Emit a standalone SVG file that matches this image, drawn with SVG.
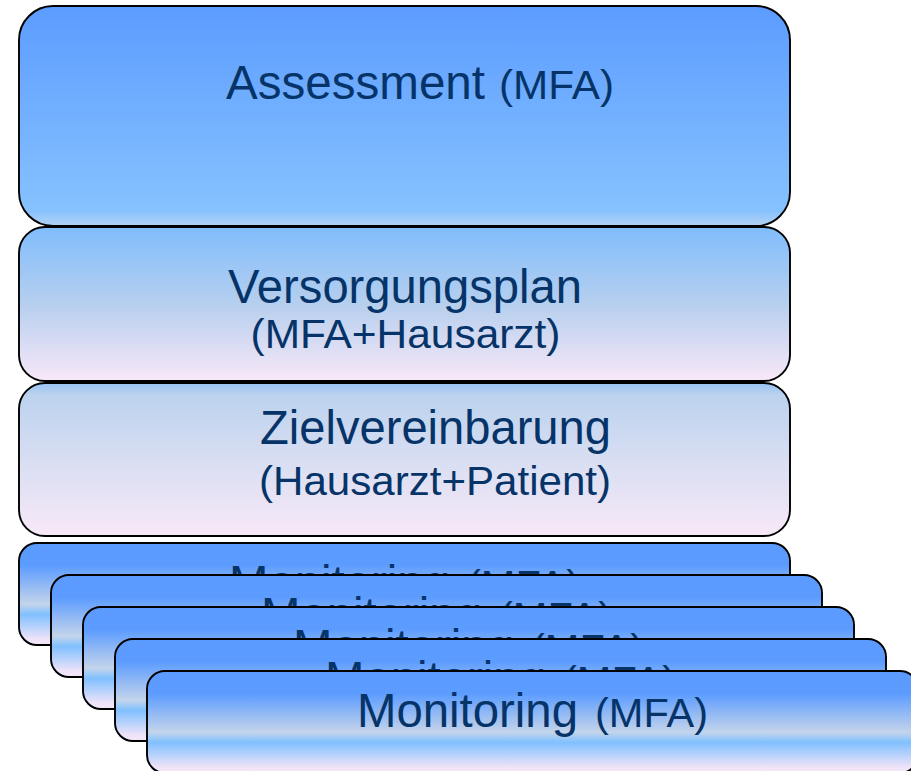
<svg xmlns="http://www.w3.org/2000/svg" width="911" height="771" viewBox="0 0 911 771">
<defs>
<linearGradient id="g1" x1="0" y1="0" x2="0" y2="1">
<stop offset="0" stop-color="#5c9cff"/>
<stop offset="0.93" stop-color="#86c2ff"/>
<stop offset="1" stop-color="#b4d2f2"/>
</linearGradient>
<linearGradient id="g2" x1="0" y1="0" x2="0" y2="1">
<stop offset="0" stop-color="#80bdfd"/>
<stop offset="0.5" stop-color="#b6cfee"/>
<stop offset="1" stop-color="#f8e8f8"/>
</linearGradient>
<linearGradient id="g3" x1="0" y1="0" x2="0" y2="1">
<stop offset="0" stop-color="#98c4f6"/>
<stop offset="0.08" stop-color="#bcd2ee"/>
<stop offset="0.5" stop-color="#d8def2"/>
<stop offset="1" stop-color="#f8e8f8"/>
</linearGradient>
<linearGradient id="gm" x1="0" y1="0" x2="0" y2="1">
<stop offset="0" stop-color="#5b9bff"/>
<stop offset="0.22" stop-color="#5c9cff"/>
<stop offset="0.6" stop-color="#c4d4ea"/>
<stop offset="0.7" stop-color="#80c0ff"/>
<stop offset="0.95" stop-color="#f2e4f8"/>
<stop offset="1" stop-color="#f4e6f8"/>
</linearGradient>
</defs>
<style>
.box{stroke:#000;stroke-width:1.9}
.t{font-family:"Liberation Sans",Arial,sans-serif;fill:#063468}
.big{font-size:48px}
.small{font-size:41px}
</style>
<g id="assessment">
<rect class="box" x="19" y="6" width="771" height="220" rx="34" ry="34" fill="url(#g1)"/>
<text class="t big" x="226" y="99" textLength="259" lengthAdjust="spacingAndGlyphs">Assessment</text>
<text class="t small" x="499" y="99" textLength="115" lengthAdjust="spacingAndGlyphs">(MFA)</text>
</g>
<g id="versorgungsplan">
<rect class="box" x="19" y="227" width="771" height="154" rx="26" ry="26" fill="url(#g2)"/>
<text class="t big" x="228" y="302.5" textLength="354" lengthAdjust="spacingAndGlyphs">Versorgungsplan</text>
<text class="t small" x="250.5" y="348" textLength="310" lengthAdjust="spacingAndGlyphs">(MFA+Hausarzt)</text>
</g>
<g id="zielvereinbarung">
<rect class="box" x="19" y="383" width="771" height="153" rx="26" ry="26" fill="url(#g3)"/>
<text class="t big" x="260" y="444" textLength="351" lengthAdjust="spacingAndGlyphs">Zielvereinbarung</text>
<text class="t small" x="259" y="494.5" textLength="352" lengthAdjust="spacingAndGlyphs">(Hausarzt+Patient)</text>
</g>
<g id="monitoring1" transform="translate(19,543)">
<rect class="box" x="0" y="0" width="771" height="102" rx="18" ry="18" fill="url(#gm)"/>
<text class="t big" x="210" y="56" textLength="221" lengthAdjust="spacingAndGlyphs">Monitoring</text>
<text class="t small" x="448" y="56" textLength="113" lengthAdjust="spacingAndGlyphs">(MFA)</text>
</g>
<g id="monitoring2" transform="translate(51,575)">
<rect class="box" x="0" y="0" width="771" height="102" rx="18" ry="18" fill="url(#gm)"/>
<text class="t big" x="210" y="56" textLength="221" lengthAdjust="spacingAndGlyphs">Monitoring</text>
<text class="t small" x="448" y="56" textLength="113" lengthAdjust="spacingAndGlyphs">(MFA)</text>
</g>
<g id="monitoring3" transform="translate(83,607)">
<rect class="box" x="0" y="0" width="771" height="102" rx="18" ry="18" fill="url(#gm)"/>
<text class="t big" x="210" y="56" textLength="221" lengthAdjust="spacingAndGlyphs">Monitoring</text>
<text class="t small" x="448" y="56" textLength="113" lengthAdjust="spacingAndGlyphs">(MFA)</text>
</g>
<g id="monitoring4" transform="translate(115,639)">
<rect class="box" x="0" y="0" width="771" height="102" rx="18" ry="18" fill="url(#gm)"/>
<text class="t big" x="210" y="56" textLength="221" lengthAdjust="spacingAndGlyphs">Monitoring</text>
<text class="t small" x="448" y="56" textLength="113" lengthAdjust="spacingAndGlyphs">(MFA)</text>
</g>
<g id="monitoring5" transform="translate(147,671)">
<rect class="box" x="0" y="0" width="771" height="102" rx="18" ry="18" fill="url(#gm)"/>
<text class="t big" x="210" y="56" textLength="221" lengthAdjust="spacingAndGlyphs">Monitoring</text>
<text class="t small" x="448" y="56" textLength="113" lengthAdjust="spacingAndGlyphs">(MFA)</text>
</g>
</svg>
